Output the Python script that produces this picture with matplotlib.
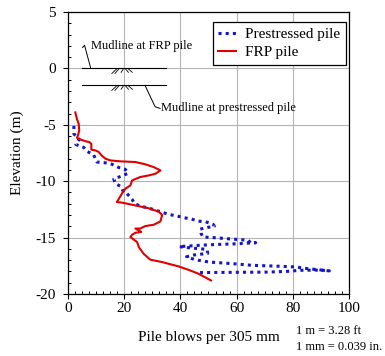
import numpy as np
import matplotlib
matplotlib.use("Agg")
import matplotlib.pyplot as plt
from matplotlib.ticker import MultipleLocator

plt.rcParams['font.family'] = ['Liberation Serif', 'DejaVu Serif']
plt.rcParams['axes.unicode_minus'] = False

# FRP pile - blows per 305 mm vs elevation (m)
frp_blows = [2.6, 3.2, 3.8, 4.0, 3.6, 3.2, 4.4, 6.4, 7.6, 8.3, 8.3, 9.7, 10.9, 11.9,
             13.3, 15.1, 18.6, 24.0, 27.5, 30.5, 32.9, 31.1, 28.7, 25.7, 22.8, 22.2,
             20.4, 19.2, 17.4, 19.2, 24.0, 28.7, 32.3, 33.5, 32.9, 30.5, 27.5, 25.7,
             24.0, 26.1, 24.0, 22.8, 22.2, 24.6, 25.2, 26.9, 29.3, 33.5, 37.0, 39.3,
             42.8, 46.4, 50.9]
frp_elev = [-3.9, -4.5, -4.9, -5.5, -5.9, -6.15, -6.3, -6.47, -6.53, -6.7, -7.2, -7.27,
            -7.4, -7.7, -8.0, -8.16, -8.24, -8.3, -8.5, -8.75, -9.04, -9.34, -9.49,
            -9.63, -9.93, -10.37, -10.67, -11.1, -11.85, -11.9, -12.15, -12.4, -12.7,
            -13.0, -13.56, -13.86, -13.98, -14.2, -14.2, -14.5, -14.57, -14.75, -14.95,
            -15.4, -15.84, -16.43, -16.96, -17.17, -17.4, -17.55, -17.85, -18.2, -18.8]

# Prestressed pile
ps_blows = [2.1, 2.1, 4.0, 2.8, 5.6, 6.8, 9.1, 10.3, 13.0, 15.7, 18.0, 20.4, 21.4, 19.0,
            16.3, 16.8, 19.0, 19.8, 21.0, 22.8, 23.7, 26.1, 28.9, 31.5, 34.0, 36.4,
            39.0, 41.4, 44.0, 46.4, 49.0, 51.7, 52.1, 49.7, 47.0, 47.3, 48.0, 51.7,
            56.8, 61.8, 64.2, 65.1, 66.8, 60.0, 52.0, 47.0, 39.5, 42.2, 49.5, 49.7,
            44.6, 42.2, 45.2, 50.2, 58.0, 65.6, 73.1, 80.8, 85.5, 93.0, 90.0, 82.6,
            77.8, 70.7, 47.0]
ps_elev = [-5.1, -5.8, -6.3, -6.75, -7.0, -7.36, -7.65, -8.3, -8.36, -8.5, -8.78, -8.95,
           -9.3, -9.55, -9.8, -10.2, -10.5, -11.0, -11.1, -11.6, -12.0, -12.23, -12.4,
           -12.6, -12.8, -12.97, -13.1, -13.24, -13.36, -13.54, -13.6, -13.83, -14.0,
           -14.1, -14.25, -14.6, -14.95, -15.0, -15.1, -15.19, -15.25, -15.5, -15.45,
           -15.55, -15.62, -15.68, -15.8, -15.88, -16.05, -16.4, -16.55, -16.7, -16.96,
           -17.17, -17.3, -17.46, -17.52, -17.6, -17.76, -17.95, -17.88, -17.9, -18.0,
           -18.06, -18.1]

# mudline elevations (m)
mudline_frp = 0.0
mudline_ps = -1.5

fig = plt.figure(figsize=(3.85, 3.56), dpi=100)
ax = fig.add_axes([0.1766, 0.1742, 0.7299, 0.7921])

ax.plot(ps_blows, ps_elev, color='#1414C8', lw=2.2, dashes=(1, 1.35),
        dash_capstyle='butt', label='Prestressed pile', zorder=3)
ax.plot(frp_blows, frp_elev, color='#E00000', lw=1.5, label='FRP pile', zorder=4)

# mudline sketch
for yl in (mudline_frp, mudline_ps):
    ax.plot([5, 35], [yl, yl], color='black', lw=0.8, zorder=2)
    for x0, x1, d0, d1 in [(15.6, 17.3, -0.4, 0), (16.7, 18.1, -0.4, 0),
                           (18.9, 19.7, -0.3, 0), (20.5, 21.5, 0, -0.3),
                           (21.5, 22.9, 0, -0.3)]:
        ax.plot([x0, x1], [yl + d0 - 0.05, yl + d1 - 0.05], color='black', lw=0.6, zorder=2)

ax.plot([5.2, 5.9, 8.1], [1.85, 2.05, 0.0], color='black', lw=0.7)
ax.text(8.1, 1.95, 'Mudline at FRP pile', fontsize=9, va='center', ha='left')
ax.plot([27.4, 31.0, 32.8], [-1.5, -3.4, -3.55], color='black', lw=0.7)
ax.text(33.0, -3.5, 'Mudline at prestressed pile', fontsize=9, va='center', ha='left')

ax.set_xlim(0, 100)
ax.set_ylim(-20, 5)
ax.xaxis.set_major_locator(MultipleLocator(20))
ax.xaxis.set_minor_locator(MultipleLocator(2.5))
ax.yaxis.set_major_locator(MultipleLocator(5))
ax.yaxis.set_minor_locator(MultipleLocator(1))
ax.xaxis.set_major_formatter(lambda v, p: f'{v:.0f}')
ax.yaxis.set_major_formatter(lambda v, p: f'{v:.0f}')
ax.grid(True, which='major', color='#B4B4B4', lw=0.8)
ax.set_axisbelow(True)

ax.tick_params(which='major', direction='out', length=3.6, width=0.8, labelsize=11)
ax.tick_params(axis='x', which='major', pad=2.5)
ax.tick_params(axis='y', which='major', pad=5)
ax.tick_params(which='minor', direction='in', length=2.5, width=0.7)
for s in ax.spines.values():
    s.set_linewidth(0.9)

ax.set_xlabel('Pile blows per 305 mm', fontsize=11)
ax.set_ylabel('Elevation (m)', fontsize=11)
ax.xaxis.set_label_coords(0.5, -0.156)
ax.xaxis.label.set_va('center')
ax.yaxis.set_label_coords(-0.181, 0.5)
ax.yaxis.label.set_va('center')

leg = ax.legend(loc='upper right', bbox_to_anchor=(0.989, 0.965), fontsize=11,
                frameon=True, fancybox=False, edgecolor='black', framealpha=1,
                handlelength=1.2, handletextpad=0.6, labelspacing=0.3,
                borderpad=0.35, borderaxespad=0)
leg.get_frame().set_linewidth(0.9)

fig.text(0.769, 0.071, '1 m = 3.28 ft', fontsize=9, va='center', ha='left')
fig.text(0.769, 0.025, '1 mm = 0.039 in.', fontsize=9, va='center', ha='left')

fig.savefig('out.png', dpi=100)
